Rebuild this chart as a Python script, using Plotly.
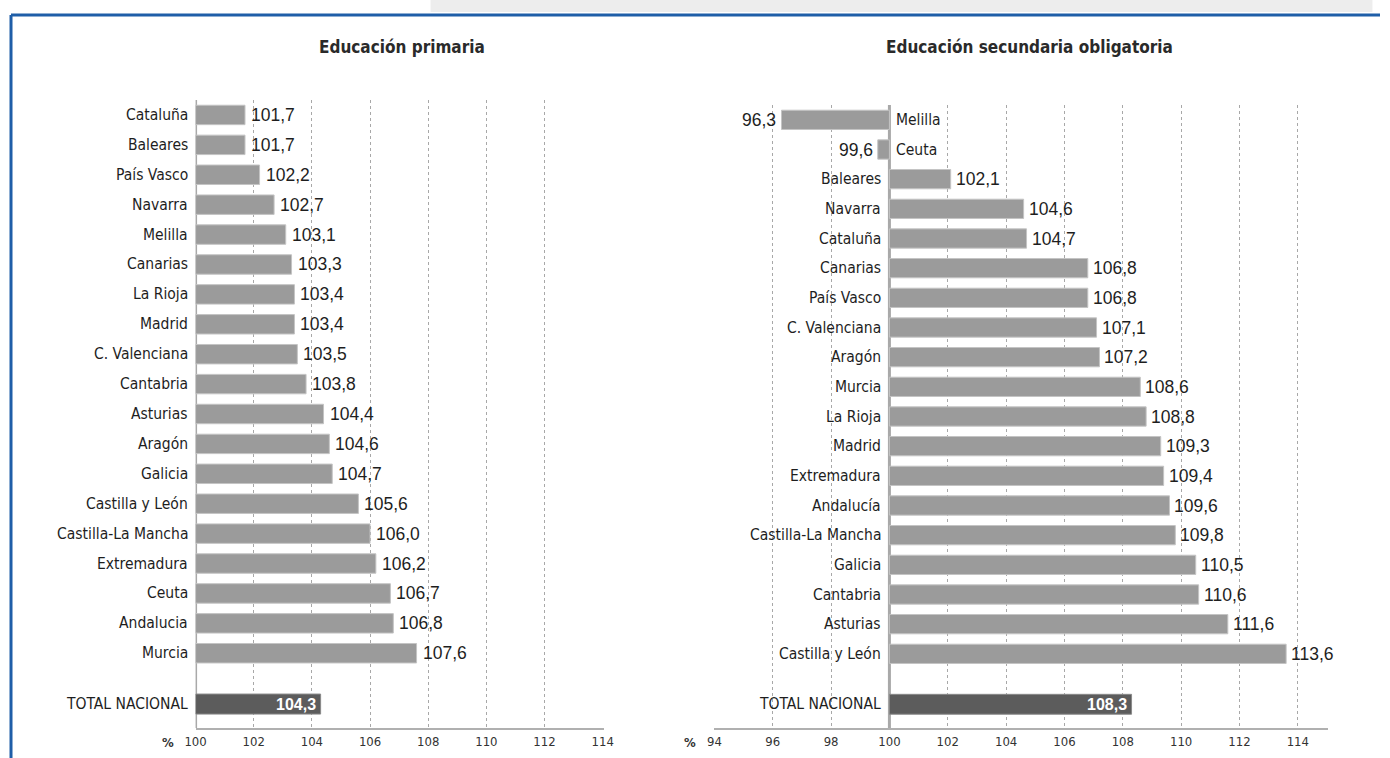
import plotly.graph_objects as go

# ---------------- data ----------------
prim_regions = ["Cataluña", "Baleares", "País Vasco", "Navarra", "Melilla", "Canarias",
                "La Rioja", "Madrid", "C. Valenciana", "Cantabria", "Asturias", "Aragón",
                "Galicia", "Castilla y León", "Castilla-La Mancha", "Extremadura", "Ceuta",
                "Andalucia", "Murcia"]
prim_values = [101.7, 101.7, 102.2, 102.7, 103.1, 103.3, 103.4, 103.4, 103.5, 103.8,
               104.4, 104.6, 104.7, 105.6, 106.0, 106.2, 106.7, 106.8, 107.6]
prim_total = 104.3

sec_regions = ["Melilla", "Ceuta", "Baleares", "Navarra", "Cataluña", "Canarias",
               "País Vasco", "C. Valenciana", "Aragón", "Murcia", "La Rioja", "Madrid",
               "Extremadura", "Andalucía", "Castilla-La Mancha", "Galicia", "Cantabria",
               "Asturias", "Castilla y León"]
sec_values = [96.3, 99.6, 102.1, 104.6, 104.7, 106.8, 106.8, 107.1, 107.2, 108.6, 108.8,
              109.3, 109.4, 109.6, 109.8, 110.5, 110.6, 111.6, 113.6]
sec_total = 108.3

total_label = "TOTAL NACIONAL"
prim_title = "Educación primaria"
sec_title = "Educación secundaria obligatoria"
prim_ticks = [100, 102, 104, 106, 108, 110, 112, 114]
sec_ticks = [94, 96, 98, 100, 102, 104, 106, 108, 110, 112, 114]
BASE = 100

# ---------------- style ----------------
W, H = 1390, 758
BAR = "#9b9b9b"
BAR_EDGE = "#c4c4c4"
TOT = "#5c5c5c"
TXT = "#1e1e1e"
LAB_FONT = "DejaVu Sans Condensed, Liberation Sans Narrow, sans-serif"
VAL_FONT = "Liberation Sans, Arial, sans-serif"
BLUE = "#1f5ea8"

# horizontal pixel mapping correction observed in the rendered page
SX, OX = 0.985, 10.4


def px_x(p):
    return max(0.0, min(1.0, ((p - OX) / SX) / W))


def px_y(p):
    return (H - p) / H


def fmt(v):
    return f"{v:.1f}".replace(".", ",")


TOTAL_POS = 19.7
ypos = list(range(len(prim_regions)))

fig = go.Figure()

for vals, tot, xa, ya in [(prim_values, prim_total, "x", "y"),
                           (sec_values, sec_total, "x2", "y2")]:
    fig.add_trace(go.Bar(
        y=ypos, x=[v - BASE for v in vals], base=BASE, orientation="h",
        marker=dict(color=BAR, line=dict(color=BAR_EDGE, width=1)),
        width=0.65, xaxis=xa, yaxis=ya, hoverinfo="skip", showlegend=False))
    fig.add_trace(go.Bar(
        y=[TOTAL_POS], x=[tot - BASE], base=BASE, orientation="h",
        marker=dict(color=TOT, line=dict(color="#8a8a8a", width=1)),
        width=0.67, xaxis=xa, yaxis=ya, hoverinfo="skip", showlegend=False))

LAB = dict(family=LAB_FONT, size=15.5, color=TXT)
VAL = dict(family=VAL_FONT, size=17.5, color=TXT)
TOTV = dict(family=VAL_FONT, size=16, color="white")

ann = []
for i, (r, v) in enumerate(zip(prim_regions, prim_values)):
    ann.append(dict(x=BASE, y=i, xref="x", yref="y", text=r, xanchor="right", xshift=-6,
                    showarrow=False, font=LAB))
    ann.append(dict(x=v, y=i, xref="x", yref="y", text=fmt(v), xanchor="left", xshift=4,
                    showarrow=False, font=VAL))
ann.append(dict(x=BASE, y=TOTAL_POS, xref="x", yref="y", text=total_label, xanchor="right",
                xshift=-6, showarrow=False, font=LAB))
ann.append(dict(x=prim_total, y=TOTAL_POS, xref="x", yref="y", text="<b>" + fmt(prim_total) + "</b>",
                xanchor="right", xshift=-3, showarrow=False, font=TOTV))

for i, (r, v) in enumerate(zip(sec_regions, sec_values)):
    if v >= BASE:
        ann.append(dict(x=BASE, y=i, xref="x2", yref="y2", text=r, xanchor="right", xshift=-6,
                        showarrow=False, font=LAB))
        ann.append(dict(x=v, y=i, xref="x2", yref="y2", text=fmt(v), xanchor="left", xshift=3,
                        showarrow=False, font=VAL))
    else:
        ann.append(dict(x=BASE, y=i, xref="x2", yref="y2", text=r, xanchor="left", xshift=5,
                        showarrow=False, font=LAB))
        ann.append(dict(x=v, y=i, xref="x2", yref="y2", text=fmt(v), xanchor="right", xshift=-3,
                        showarrow=False, font=VAL))
ann.append(dict(x=BASE, y=TOTAL_POS, xref="x2", yref="y2", text=total_label, xanchor="right",
                xshift=-6, showarrow=False, font=LAB))
ann.append(dict(x=sec_total, y=TOTAL_POS, xref="x2", yref="y2", text="<b>" + fmt(sec_total) + "</b>",
                xanchor="right", xshift=-3, showarrow=False, font=TOTV))

TITLE = dict(family=LAB_FONT, size=17, color="#2a2a2a")
ann.append(dict(x=px_x(401), y=px_y(47), xref="paper", yref="paper", text="<b>" + prim_title + "</b>",
                xanchor="center", yanchor="middle", showarrow=False, font=TITLE))
ann.append(dict(x=px_x(1029), y=px_y(47), xref="paper", yref="paper", text="<b>" + sec_title + "</b>",
                xanchor="center", yanchor="middle", showarrow=False, font=TITLE))
PCT = dict(family=LAB_FONT, size=13, color="#333")
ann.append(dict(x=px_x(167), y=px_y(742), xref="paper", yref="paper", text="<b>%</b>",
                xanchor="center", yanchor="middle", showarrow=False, font=PCT))
ann.append(dict(x=px_x(689), y=px_y(742), xref="paper", yref="paper", text="<b>%</b>",
                xanchor="center", yanchor="middle", showarrow=False, font=PCT))

shapes = [
    dict(type="line", xref="x", yref="y domain", x0=BASE, x1=BASE, y0=0, y1=1,
         line=dict(color="#a9a9a9", width=3), layer="below"),
    dict(type="line", xref="x2", yref="y2 domain", x0=BASE, x1=BASE, y0=0, y1=1,
         line=dict(color="#a9a9a9", width=3), layer="below"),
    dict(type="rect", xref="paper", yref="paper", x0=px_x(430), x1=px_x(1372), y0=px_y(12), y1=1,
         fillcolor="#ededed", line=dict(width=0), layer="below"),
    dict(type="line", xref="paper", yref="paper", x0=px_x(9), x1=1, y0=px_y(15), y1=px_y(15),
         line=dict(color=BLUE, width=3)),
    dict(type="line", xref="paper", yref="paper", x0=px_x(9), x1=px_x(9), y0=0, y1=px_y(15),
         line=dict(color=BLUE, width=3)),
]

axis_common = dict(showgrid=True, gridcolor="#a8a8a8", griddash="dot", gridwidth=1,
                   zeroline=False, showline=True, linecolor="#b0b0b0", linewidth=2,
                   ticks="", tickfont=dict(family=LAB_FONT, size=13, color="#333"),
                   fixedrange=True)

fig.update_layout(
    width=W, height=H, margin=dict(l=0, r=0, t=0, b=0),
    paper_bgcolor="white", plot_bgcolor="white",
    barmode="overlay",
    xaxis=dict(domain=[px_x(195), px_x(603)], range=[BASE, 114.03], tickvals=prim_ticks,
               anchor="y", **axis_common),
    xaxis2=dict(domain=[px_x(713), px_x(1328)], range=[93.97, 115.05], tickvals=sec_ticks,
                anchor="y2", **axis_common),
    yaxis=dict(domain=[px_y(728), px_y(100)], range=[20.5, -0.5], showticklabels=False,
               showgrid=False, zeroline=False, showline=False, anchor="x", fixedrange=True),
    yaxis2=dict(domain=[px_y(728), px_y(105)], range=[20.5, -0.5], showticklabels=False,
                showgrid=False, zeroline=False, showline=False, anchor="x2", fixedrange=True),
    annotations=ann, shapes=shapes,
)

fig.write_html("out.html", config={"displayModeBar": False},
               post_script="document.body.style.margin='0';document.body.style.overflow='hidden';")
